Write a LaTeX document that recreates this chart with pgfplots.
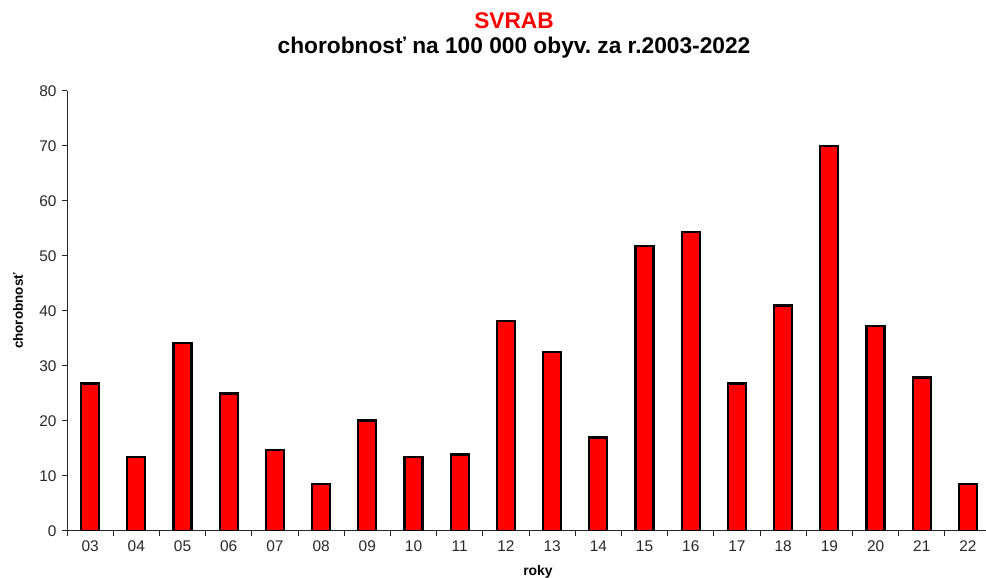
\documentclass[border=0pt]{standalone}
\usepackage{pgfplots}
\pgfplotsset{compat=1.18}
\usepackage{fontspec}
\setmainfont{Liberation Sans}
\definecolor{barred}{RGB}{255,0,0}
\definecolor{tickgray}{RGB}{40,40,40}
\begin{document}
\frenchspacing
\begin{tikzpicture}[x=1bp,y=1bp]
\path[use as bounding box] (0,0) rectangle (986,578);
\begin{axis}[
  at={(67bp,47bp)}, anchor=south west,
  scale only axis, width=919bp, height=440bp,
  xmin=-0.5, xmax=19.39, ymin=0, ymax=80,
  axis x line=bottom, axis y line=left,
  axis line style={-, line width=1bp, draw=tickgray},
  ytick={0,10,...,80},
  xtick={0,...,19},
  xticklabels={03,04,05,06,07,08,09,10,11,12,13,14,15,16,17,18,19,20,21,22},
  minor xtick={-0.5,0.5,...,19.5},
  tick align=outside,
  major tick length=5bp, minor tick length=5bp,
  major x tick style={draw=none},
  tick style={line width=1bp, draw=tickgray},
  /pgf/number format/assume math mode=true,
  tick label style={font=\fontsize{15.5}{18}\selectfont, text=tickgray},
  xticklabel style={yshift=-1bp},
  yticklabel style={xshift=-2bp},
  ybar, bar width=18bp,
  xlabel={roky},
  xlabel style={font=\bfseries\fontsize{14}{16}\selectfont, at={(axis description cs:0.5125,0)}, anchor=north, inner sep=0pt, yshift=-34bp},
  ylabel={chorobnosť},
  ylabel style={font=\bfseries\fontsize{13.5}{16}\selectfont, at={(axis description cs:-0.0533,0.5)}, anchor=center, inner sep=0pt},
  title={\textcolor{red}{SVRAB}\\chorobnosť na 100 000 obyv. za r.2003-2022},
  title style={align=center, font=\bfseries\fontsize{22.8}{26}\selectfont, at={(axis description cs:0.4864,1)}, anchor=north, inner sep=0pt, yshift=73bp},
]
\addplot[fill=barred, draw=black, line width=2.2bp] coordinates {
(0,26.8) (1,13.5) (2,34.2) (3,25.0) (4,14.7) (5,8.5) (6,20.1) (7,13.5) (8,13.9) (9,38.2)
(10,32.6) (11,17.0) (12,51.8) (13,54.4) (14,26.8) (15,41.0) (16,70.0) (17,37.3) (18,27.9) (19,8.5)
};
\end{axis}
\end{tikzpicture}
\end{document}
